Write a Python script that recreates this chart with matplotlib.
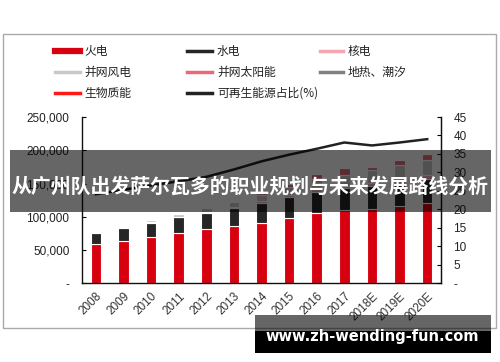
import matplotlib
matplotlib.use("Agg")
import matplotlib.pyplot as plt
from matplotlib.patches import Rectangle
from matplotlib.lines import Line2D
from matplotlib.ticker import FuncFormatter, MultipleLocator
import numpy as np

plt.rcParams['font.family'] = ['Liberation Sans', 'Noto Sans CJK SC', 'DejaVu Sans']

# ---------------- data (万千瓦) ----------------
years = ['2008', '2009', '2010', '2011', '2012', '2013', '2014', '2015', '2016',
         '2017', '2018E', '2019E', '2020E']
thermal = [59000, 64000, 70000, 76000, 81000, 85500, 91000, 98500, 105000, 109500, 111500, 115500, 121000]
hydro = [17000, 19500, 21000, 23000, 24800, 28000, 30200, 31000, 33000, 33500, 34500, 35500, 36500]
nuclear = [900, 900, 1100, 1300, 1300, 1500, 2000, 2700, 3400, 3600, 4500, 5200, 5800]
wind = [800, 1800, 3000, 4600, 6100, 7600, 9600, 12900, 14700, 16400, 19500, 21000, 22000]
solar = [0, 0, 30, 200, 300, 1600, 2500, 4200, 7600, 11000, 4500, 8000, 9500]
geo = [3, 3, 3, 3, 3, 3, 3, 3, 3, 3, 3, 3, 3]
biomass = [300, 300, 400, 500, 600, 800, 900, 1000, 1200, 1500, 1600, 1800, 1800]
renew_share = [24.1, 25.3, 26.5, 27.6, 28.8, 30.8, 33.0, 34.8, 36.4, 38.1, 37.3, 38.1, 39.0]

series_names = ['火电', '水电', '核电', '并网风电', '并网太阳能', '地热、潮汐', '生物质能']
series_vals = [thermal, hydro, nuclear, wind, solar, geo, biomass]
series_colors = ['#D7000F', '#262626', '#F4A7B3', '#C8C8C8', '#E8697C', '#808080', '#FF1A1A']
line_name = '可再生能源占比(%)'
line_color = '#222222'

# ---------------- figure ----------------
W, H = 500, 362
fig = plt.figure(figsize=(W / 100, H / 100), dpi=100)
ax = fig.add_axes([82 / W, 1 - 283.3 / H, (441 - 82) / W, (283.3 - 117) / H])

x = np.arange(len(years))
bottom = np.zeros(len(years))
for name, vals, col in zip(series_names, series_vals, series_colors):
    v = np.array(vals, dtype=float)
    ax.bar(x, v, width=0.38, bottom=bottom, color=col, edgecolor='white',
           linewidth=0.8, zorder=2)
    bottom += v

ax.set_xlim(-0.5, len(years) - 0.5)
ax.set_ylim(0, 250000)
ax.yaxis.set_major_locator(MultipleLocator(50000))
ax.yaxis.set_major_formatter(FuncFormatter(lambda v, p: '-' if v == 0 else f'{v:,.0f}'))
ax.set_xticks(x)
ax.set_xticklabels(years, rotation=45, ha='right', rotation_mode='anchor',
                   fontsize=8.5, color='#333333')
ax.tick_params(axis='x', length=0, pad=5)
ax.tick_params(axis='y', direction='in', length=3, pad=9, labelsize=8.5,
               labelcolor='#222222', width=0.8)
for s in ['top']:
    ax.spines[s].set_visible(False)
for s in ['left', 'bottom', 'right']:
    ax.spines[s].set_color('#111111')
    ax.spines[s].set_linewidth(1.0)

ax2 = ax.twinx()
ax2.plot(x, renew_share, color=line_color, linewidth=1.8, zorder=3)
ax2.set_ylim(0, 45)
ax2.yaxis.set_major_locator(MultipleLocator(5))
ax2.yaxis.set_major_formatter(FuncFormatter(lambda v, p: '-' if v == 0 else f'{v:.0f}'))
ax2.tick_params(axis='y', direction='in', length=3, pad=9, labelsize=8.5,
                labelcolor='#222222', width=0.8)
for s in ['top', 'left', 'bottom']:
    ax2.spines[s].set_visible(False)
ax2.spines['right'].set_color('#111111')

# ---------------- manual legend ----------------
cols_handle = [(55, 80), (187, 212), (320, 343)]
cols_text = [84, 217, 348]
rows_y = [51, 72, 93]
entries = [
    (0, 0, series_names[0], series_colors[0], 4.5),
    (1, 0, series_names[1], series_colors[1], 2.5),
    (2, 0, series_names[2], series_colors[2], 2.5),
    (0, 1, series_names[3], series_colors[3], 2.5),
    (1, 1, series_names[4], series_colors[4], 2.5),
    (2, 1, series_names[5], series_colors[5], 2.5),
    (0, 2, series_names[6], series_colors[6], 2.5),
    (1, 2, line_name, line_color, 2.5),
]
for c, r, name, col, lw in entries:
    x0, x1 = cols_handle[c]
    yy = 1 - rows_y[r] / H
    fig.add_artist(Line2D([x0 / W, x1 / W], [yy, yy], color=col, linewidth=lw,
                          transform=fig.transFigure))
    fig.text(cols_text[c] / W, yy, name, fontsize=8.5, va='center', ha='left',
             color='#222222', family=['Noto Sans CJK SC', 'DejaVu Sans'])

# outer border
fig.add_artist(Rectangle((3 / W, 1 - 328 / H), 493 / W, 294 / H, transform=fig.transFigure,
                         fill=False, edgecolor='#AAAAAA', linewidth=1.0))

# ---------------- overlays ----------------
fig.add_artist(Rectangle((10 / W, 1 - 211.7 / H), 480.7 / W, 61.7 / H, transform=fig.transFigure,
                         facecolor='black', alpha=0.6, edgecolor='none', zorder=10))
fig.text(250 / W, 1 - 186 / H, '从广州队出发萨尔瓦多的职业规划与未来发展路线分析',
         fontsize=14.3, fontweight='bold', color='white', ha='center', va='center',
         family=['Noto Sans CJK SC', 'DejaVu Sans'], zorder=11)

fig.add_artist(Rectangle((255 / W, 1 - 331 / H), 236 / W, 16 / H, transform=fig.transFigure,
                         facecolor='black', alpha=0.6, edgecolor='none', zorder=10))
fig.add_artist(Rectangle((255 / W, 1 - 352.7 / H), 236 / W, 21.7 / H, transform=fig.transFigure,
                         facecolor='black', edgecolor='none', zorder=10))
fig.text(372 / W, 1 - 336 / H, 'www.zh-wending-fun.com', fontsize=10.5, fontweight='bold',
         color='white', ha='center', va='center', family='DejaVu Sans', zorder=11)

fig.savefig('out.png', dpi=100)
